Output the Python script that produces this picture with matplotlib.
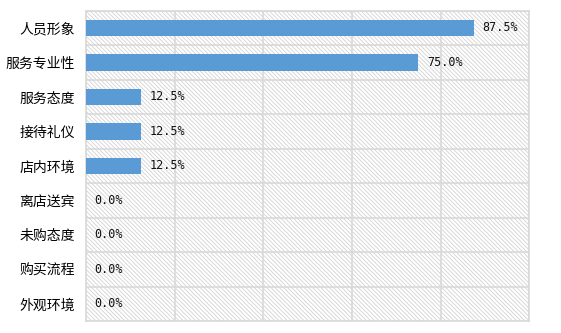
import matplotlib
matplotlib.use("Agg")
import matplotlib.pyplot as plt
from matplotlib.patches import Rectangle

categories = ["人员形象", "服务专业性", "服务态度", "接待礼仪", "店内环境",
              "离店送宾", "未购态度", "购买流程", "外观环境"]
values = [87.5, 75.0, 12.5, 12.5, 12.5, 0.0, 0.0, 0.0, 0.0]
xticks = [0, 20, 40, 60, 80, 100]

plt.rcParams['font.family'] = ['Noto Sans CJK SC', 'DejaVu Sans']
plt.rcParams['hatch.linewidth'] = 0.6

fig = plt.figure(figsize=(5.61, 3.33), dpi=100)
ax = fig.add_axes([86/561, 12/333, (529.3-86)/561, (321-10.7)/333])

bg = Rectangle((0, 0), 1, 1, transform=ax.transAxes, facecolor='white',
               edgecolor='#d2d2d2', hatch='\\' * 8, linewidth=0, zorder=0)
ax.add_patch(bg)

n = len(categories)
ypos = list(range(n))
ax.barh(ypos, values, height=0.48, color='#5b9bd5', zorder=3)
for y, v in zip(ypos, values):
    ax.annotate(f"{v:.1f}%", xy=(v, y), xytext=(6, 0), textcoords='offset points',
                va='center', ha='left', fontsize=8.5, family='DejaVu Sans Mono',
                color='#111111', zorder=4)

ax.set_xlim(0, 100)
ax.set_ylim(n - 0.5, -0.5)
ax.set_yticks(ypos)
ax.set_yticklabels(categories, fontsize=10)
ax.set_xticks(xticks)
ax.set_xticklabels([])
ax.set_yticks([i + 0.5 for i in range(-1, n)], minor=True)
ax.grid(True, axis='x', which='major', color='#d9d9d9', linewidth=1.2, zorder=1)
ax.grid(True, axis='y', which='minor', color='#d9d9d9', linewidth=1.2, zorder=1)
ax.tick_params(axis='both', which='both', length=0)
ax.tick_params(axis='y', pad=8)
for s in ax.spines.values():
    s.set_color('#d9d9d9')
    s.set_linewidth(1.2)
ax.set_axisbelow(True)

fig.savefig("out.png", dpi=100)
